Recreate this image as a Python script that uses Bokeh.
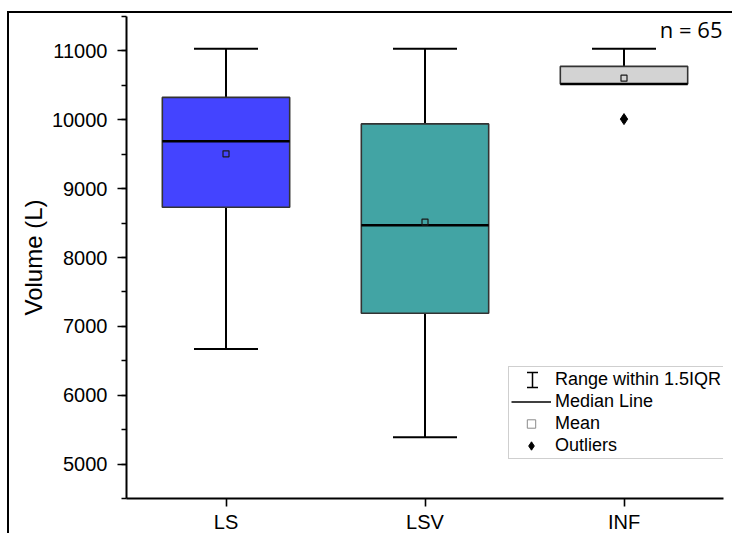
from bokeh.plotting import figure
from bokeh.models import (FactorRange, Range1d, Whisker, TeeHead, ColumnDataSource,
                          Legend, LegendItem, Label, SingleIntervalTicker)
from bokeh.transform import dodge
from bokeh.embed import file_html
from bokeh.resources import INLINE

# ---- data ----
groups = ["LS", "LSV", "INF"]
upper_whisker = [11030, 11030, 11030]
q3 = [10325, 9940, 10775]
median = [9690, 8470, 10520]
mean = [9505, 8515, 10605]
q1 = [8730, 7190, 10520]
lower_whisker = [6670, 5390, 10520]
outlier_group = ["INF"]
outlier_value = [10010]
box_colors = ["#4444FF", "#42A4A4", "#D3D3D3"]
n_text = "n = 65"
y_title = "Volume (L)"
legend_labels = ["Range within 1.5IQR", "Median Line", "Mean", "Outliers"]

src = ColumnDataSource(dict(g=groups, uw=upper_whisker, q3=q3, med=median,
                            mean=mean, q1=q1, lw=lower_whisker, color=box_colors))
out_src = ColumnDataSource(dict(g=outlier_group, v=outlier_value))

# page layout (picture pixels)
OX, OY = 9, 13                      # canvas origin inside the outer picture frame
FL, FR, FT, FB = 126, 723, 16, 498  # plot frame edges
W, H = 734 - OX, 535 - OY
p = figure(x_range=FactorRange(factors=groups), y_range=Range1d(4500, 11500),
           width=W, height=H, output_backend="svg", toolbar_location=None,
           min_border_left=FL - OX, min_border_right=734 - FR,
           min_border_top=FT - OY, min_border_bottom=535 - FB)
p.styles = {"margin-left": f"{OX - 2}px", "margin-top": f"{OY - 2}px",
            "border-left": "2px solid black", "border-top": "2px solid black"}

p.xgrid.visible = False
p.ygrid.visible = False
p.outline_line_color = None
p.background_fill_color = "white"
p.border_fill_color = "white"

# boxes
p.vbar(x="g", top="q3", bottom="q1", width=0.64, source=src,
       fill_color="color", line_color="#333333", line_width=1.6)

# whiskers
up = Whisker(base="g", upper="uw", lower="q3", source=src, line_color="black", line_width=2,
             upper_head=TeeHead(size=64, line_width=2, line_color="black"), lower_head=None)
lo = Whisker(base="g", upper="q1", lower="lw", source=src, line_color="black", line_width=2,
             lower_head=TeeHead(size=64, line_width=2, line_color="black"), upper_head=None)
p.add_layout(up)
p.add_layout(lo)

# median lines
med_r = p.segment(x0=dodge("g", -0.32, range=p.x_range), x1=dodge("g", 0.32, range=p.x_range),
                  y0="med", y1="med", source=src, line_color="black", line_width=2.5)

# mean markers
p.scatter(x="g", y="mean", source=src, marker="square", size=6, fill_alpha=0,
          line_color="#1a1a1a", line_width=1.2)

# outliers
p.scatter(x="g", y="v", source=out_src, marker="diamond", size=11,
          fill_color="black", line_color="black")

# legend-only renderers
rng_leg = p.scatter(x="g", y="med", source=src, marker="dash", fill_alpha=0, line_alpha=0)
rng_leg.visible = False
med_leg = p.segment(x0="g", x1="g", y0="med", y1="med", source=src,
                    line_color="black", line_width=1.5)
med_leg.visible = False
mean_leg = p.scatter(x="g", y="mean", source=src, marker="square", fill_color="white",
                     line_color="#8a8a8a", line_width=1)
mean_leg.visible = False
out_leg = p.scatter(x="g", y="v", source=out_src, marker="diamond",
                    fill_color="black", line_color="black")
out_leg.visible = False

LEG_L, LEG_B = 508, 459
legend = Legend(items=[LegendItem(label=legend_labels[0], renderers=[rng_leg]),
                       LegendItem(label=legend_labels[1], renderers=[med_leg]),
                       LegendItem(label=legend_labels[2], renderers=[mean_leg]),
                       LegendItem(label=legend_labels[3], renderers=[out_leg])],
                location=(LEG_L - FL, FB - LEG_B), click_policy="none",
                label_text_font="Liberation Sans", label_text_font_size="18px",
                label_text_color="black",
                border_line_color="#a0a0a0", border_line_width=1,
                background_fill_alpha=0,
                padding=2, spacing=1, margin=0, glyph_width=40, glyph_height=21,
                label_height=21, label_standoff=4)
p.add_layout(legend)

# I-beam symbol for the "Range within 1.5IQR" legend entry (screen units)
ibeam_src = ColumnDataSource(dict(b=[532 - FL], lo=[FB - 387], hi=[FB - 372]))
ibeam = Whisker(base="b", lower="lo", upper="hi", source=ibeam_src,
                base_units="screen", lower_units="screen", upper_units="screen",
                dimension="height", line_color="black", line_width=1.5, level="annotation",
                upper_head=TeeHead(size=11, line_width=1.5, line_color="black"),
                lower_head=TeeHead(size=11, line_width=1.5, line_color="black"))
p.add_layout(ibeam)

# axes
for ax in (p.xaxis[0], p.yaxis[0]):
    ax.axis_line_width = 2
    ax.axis_line_color = "black"
    ax.major_tick_line_color = "black"
    ax.major_tick_line_width = 1.6
    ax.major_tick_in = 0
    ax.major_label_text_font = "Liberation Sans"
    ax.major_label_text_font_size = "20px"
    ax.major_label_text_color = "black"

p.xaxis.major_tick_out = 8
p.xaxis.major_label_standoff = 4

p.yaxis.ticker = SingleIntervalTicker(interval=1000, num_minor_ticks=2)
p.yaxis.major_tick_out = 9
p.yaxis.minor_tick_out = 5
p.yaxis.minor_tick_in = 0
p.yaxis.minor_tick_line_color = "black"
p.yaxis.minor_tick_line_width = 1.6
p.yaxis.major_label_standoff = 10
p.yaxis.axis_label = y_title
p.yaxis.axis_label_text_font = "Liberation Sans"
p.yaxis.axis_label_text_font_size = "24px"
p.yaxis.axis_label_text_font_style = "normal"
p.yaxis.axis_label_text_color = "black"
p.yaxis.axis_label_standoff = 2

# n label (kept inside the plot frame so it is not clipped)
p.add_layout(Label(x=FR - FL - 1, y=FB - 28, x_units="screen", y_units="screen", text=n_text,
                   text_font="Open Sans", text_font_size="22px", text_align="right",
                   text_baseline="alphabetic", text_color="black"))

open("out.html", "w").write(file_html(p, INLINE))
